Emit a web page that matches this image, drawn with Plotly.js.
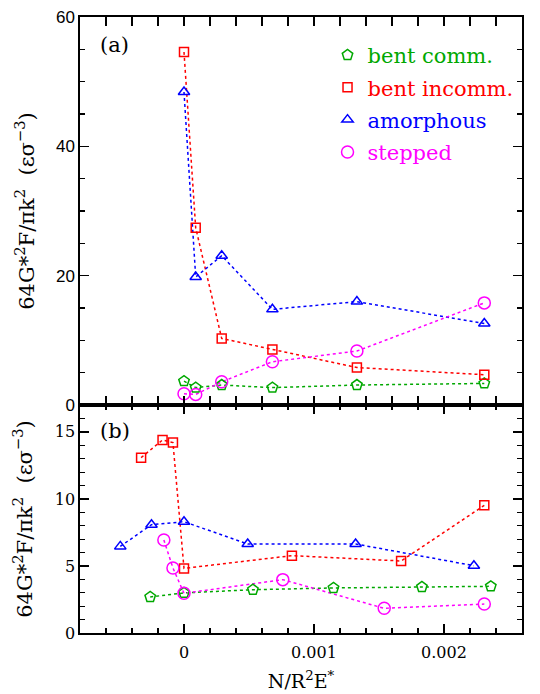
<!DOCTYPE html>
<html>
<head>
<meta charset="utf-8">
<script src="https://cdn.plot.ly/plotly-3.0.1.min.js"></script>
<style>html,body{margin:0;padding:0;background:#fff;}#chart{width:540px;height:694px;}</style>
</head>
<body>
<div id="chart"></div>
<script>
// ---- data: panel (a) ----
const xA       = [0, 0.00009, 0.00029, 0.00068, 0.00133, 0.00231];
const commA    = [3.7, 2.7, 3.1, 2.7, 3.1, 3.35];
const incommA  = [54.6, 27.4, 10.3, 8.6, 5.8, 4.7];
const amorphA  = [48.4, 19.8, 23.1, 14.8, 16.0, 12.6];
const steppedA = [1.75, 1.65, 3.6, 6.7, 8.35, 15.8];

// ---- data: panel (b) ----
const xCommB     = [-0.00026, 0, 0.00053, 0.00115, 0.00183, 0.00236];
const commB      = [2.69, 2.99, 3.23, 3.36, 3.43, 3.48];
const xIncommB   = [-0.00033, -0.000165, -0.000085, 0, 0.00083, 0.00167, 0.00231];
const incommB    = [13.08, 14.4, 14.2, 4.82, 5.77, 5.37, 9.52];
const xAmorphB   = [-0.00049, -0.00025, 0, 0.00049, 0.00132, 0.00223];
const amorphB    = [6.46, 8.08, 8.3, 6.64, 6.64, 5.02];
const xSteppedB  = [-0.000155, -0.000085, 0, 0.00076, 0.00154, 0.00231];
const steppedB   = [6.94, 4.85, 2.96, 3.98, 1.84, 2.16];

const seriesNames = ['bent comm.', 'bent incomm.', 'amorphous', 'stepped'];
const colors  = ['#00a800', '#ff0000', '#0000ff', '#ff00ff'];
const symbols = ['pentagon-open', 'square-open', 'triangle-up-open', 'circle-open'];
const sizes   = [11, 9, 10, 12];

function lineTr(x, y, i, axis) {
  return {
    x: x, y: y, type: 'scatter', mode: 'lines',
    xaxis: 'x', yaxis: axis, showlegend: false,
    line: {color: colors[i], width: 1.5, dash: 'dot'},
    cliponaxis: false, hoverinfo: 'skip'
  };
}
function markTr(x, y, i, axis, showleg) {
  return {
    x: x, y: y, type: 'scatter', mode: 'markers',
    xaxis: 'x', yaxis: axis,
    name: '<span style="color:' + colors[i] + '">' + seriesNames[i] + '</span>',
    legendgroup: 'g' + i, showlegend: showleg,
    marker: {symbol: symbols[i], size: sizes[i], color: colors[i], line: {color: colors[i], width: 1.5}},
    cliponaxis: false, hoverinfo: 'skip'
  };
}

const setsA = [[xA, commA], [xA, incommA], [xA, amorphA], [xA, steppedA]];
const setsB = [[xCommB, commB], [xIncommB, incommB], [xAmorphB, amorphB], [xSteppedB, steppedB]];

const data = [];
setsA.forEach((s, i) => data.push(lineTr(s[0], s[1], i, 'y2')));
setsB.forEach((s, i) => data.push(lineTr(s[0], s[1], i, 'y')));
setsA.forEach((s, i) => data.push(markTr(s[0], s[1], i, 'y2', true)));
setsB.forEach((s, i) => data.push(markTr(s[0], s[1], i, 'y', false)));

const serif = 'DejaVu Serif, serif';
const sans = 'Liberation Sans, Arial, sans-serif';
const yTitle = '64G*<sup>2</sup>F/πk<sup>2</sup>  (εσ<sup>−3</sup>)';
const split = 0.37;

const common = {
  showline: true, linecolor: '#000', linewidth: 1.6, mirror: 'allticks',
  ticks: 'inside', ticklen: 9, tickwidth: 1.3, tickcolor: '#000',
  showgrid: false, zeroline: false, fixedrange: true
};
const minorX = {dtick: 0.0002, ticklen: 5, tickwidth: 1.2, tickcolor: '#000', ticks: 'inside'};

const layout = {
  width: 540, height: 694,
  margin: {l: 80, r: 18, t: 17, b: 61},
  paper_bgcolor: '#fff', plot_bgcolor: '#fff',
  showlegend: true,
  legend: {
    x: 0.56, y: 0.971, xanchor: 'left', yanchor: 'top',
    bgcolor: 'rgba(0,0,0,0)', borderwidth: 0,
    font: {family: serif, size: 21, color: '#000'},
    tracegroupgap: 2, itemsizing: 'trace', itemwidth: 30
  },
  xaxis: Object.assign({}, common, {
    domain: [0, 1], anchor: 'y', range: [-0.0008, 0.0026],
    tick0: 0, dtick: 0.001, tickformat: '~g',
    minor: minorX, ticklabelstandoff: 4,
    tickfont: {family: serif, size: 16, color: '#000'},
    title: {text: 'N/R<sup>2</sup>E<sup>*</sup>', font: {family: serif, size: 19, color: '#000'}, standoff: 14}
  }),
  xaxis2: Object.assign({}, common, {
    domain: [0, 1], anchor: 'y2', matches: 'x', range: [-0.0008, 0.0026],
    tick0: 0, dtick: 0.001, showticklabels: false, minor: minorX
  }),
  yaxis: Object.assign({}, common, {
    domain: [0, split], anchor: 'x', range: [0, 17],
    tick0: 0, dtick: 5,
    minor: {dtick: 1, ticklen: 5, tickwidth: 1.2, tickcolor: '#000', ticks: 'inside'},
    tickfont: {family: serif, size: 16, color: '#000'},
    title: {text: yTitle, font: {family: serif, size: 21, color: '#000'}, standoff: 16}
  }),
  yaxis2: Object.assign({}, common, {
    domain: [split, 1], anchor: 'x2', range: [0, 60],
    tick0: 0, dtick: 20,
    minor: {dtick: 5, ticklen: 5, tickwidth: 1.2, tickcolor: '#000', ticks: 'inside'},
    tickfont: {family: sans, size: 17, color: '#000'},
    title: {text: yTitle, font: {family: serif, size: 21, color: '#000'}, standoff: 16}
  }),
  annotations: [
    {text: '(a)', xref: 'paper', yref: 'paper', x: 0.04, y: 0.955, xanchor: 'left', yanchor: 'middle',
     showarrow: false, font: {family: serif, size: 21, color: '#000'}},
    {text: '(b)', xref: 'paper', yref: 'paper', x: 0.04, y: 0.328, xanchor: 'left', yanchor: 'middle',
     showarrow: false, font: {family: serif, size: 21, color: '#000'}}
  ]
};

Plotly.newPlot('chart', data, layout, {staticPlot: true, displayModeBar: false});
</script>
</body>
</html>
